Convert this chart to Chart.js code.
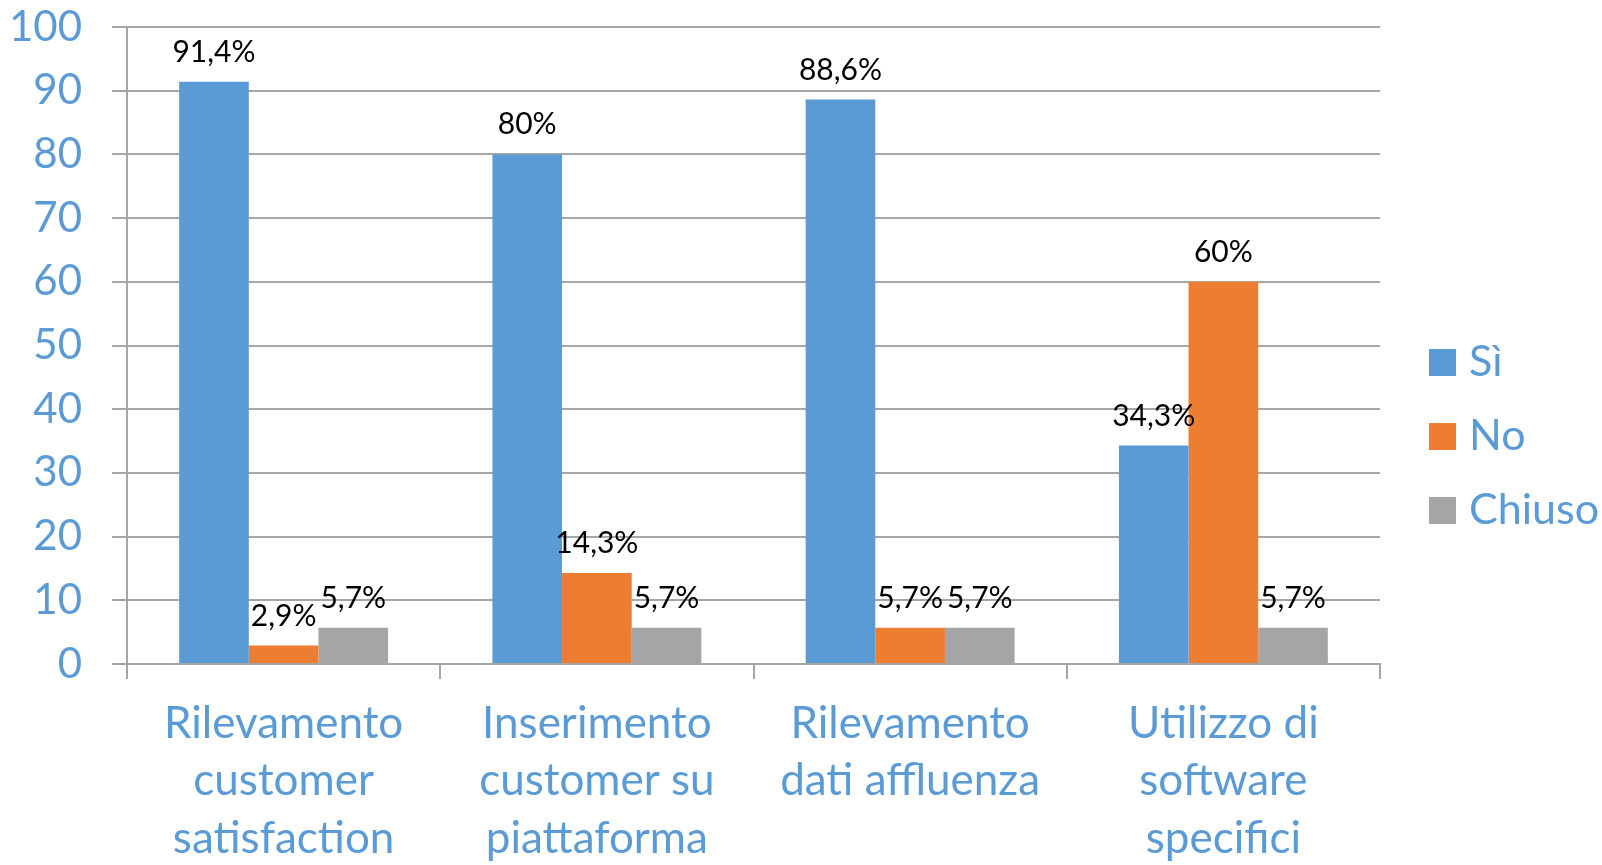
<!DOCTYPE html>
<html lang="it">
<head>
<meta charset="utf-8">
<title>Rilevamenti</title>
<script src="https://cdn.jsdelivr.net/npm/chart.js@4.4.1/dist/chart.umd.min.js"></script>
<style>
    html, body { margin: 0; padding: 0; background: #ffffff; }
    #contenitore { width: 1602px; height: 865px; }
</style>
</head>
<body>
<div id="contenitore"><canvas id="grafico" width="1602" height="865"></canvas></div>
<script>
// 1. DATI DEL GRAFICO
const categorie = [
    ['Rilevamento', 'customer', 'satisfaction'],
    ['Inserimento', 'customer su', 'piattaforma'],
    ['Rilevamento', 'dati affluenza'],
    ['Utilizzo di', 'software', 'specifici']
];
const serieNomi = ['Sì', 'No', 'Chiuso'];
const valoriSi = [91.4, 80, 88.6, 34.3];
const valoriNo = [2.9, 14.3, 5.7, 60];
const valoriChiuso = [5.7, 5.7, 5.7, 5.7];
const tickY = [0, 10, 20, 30, 40, 50, 60, 70, 80, 90, 100];

const BLU = '#5B9BD5';
const GRIGIO_LINEE = '#A6A6A6';

// 2. FORMATO ETICHETTE (virgola decimale)
function formatoPercentuale(v) {
    return String(v).replace('.', ',') + '%';
}

// 3. PLUGIN: valori sopra le barre
const etichetteValori = {
    id: 'etichetteValori',
    afterDatasetsDraw(chart) {
        const ctx = chart.ctx;
        ctx.save();
        ctx.font = '30px Lato';
        ctx.fillStyle = '#000000';
        ctx.textAlign = 'center';
        ctx.textBaseline = 'alphabetic';
        chart.data.datasets.forEach((ds, i) => {
            chart.getDatasetMeta(i).data.forEach((barra, j) => {
                ctx.fillText(formatoPercentuale(ds.data[j]), barra.x, barra.y - 20);
            });
        });
        ctx.restore();
    }
};

// 4. PLUGIN: legenda a destra, centrata sull'altezza totale
const legendaDestra = {
    id: 'legendaDestra',
    afterDraw(chart) {
        const ctx = chart.ctx;
        const lato = 27, passo = 74, x = 1429;
        let y = 349;
        ctx.save();
        ctx.font = '43px Lato';
        ctx.textAlign = 'left';
        ctx.textBaseline = 'alphabetic';
        chart.data.datasets.forEach(ds => {
            ctx.fillStyle = ds.backgroundColor;
            ctx.fillRect(x, y, lato, lato);
            ctx.fillStyle = BLU;
            ctx.fillText(ds.label, x + 40, y + 27);
            y += passo;
        });
        ctx.restore();
    }
};

// 5. CREAZIONE DEL GRAFICO
let grafico;

function disegnaGrafico() {
    const ctx = document.getElementById('grafico').getContext('2d');
    if (grafico) grafico.destroy();

    grafico = new Chart(ctx, {
        type: 'bar',
        data: {
            labels: categorie,
            datasets: [
                { label: serieNomi[0], data: valoriSi, backgroundColor: '#5B9BD5' },
                { label: serieNomi[1], data: valoriNo, backgroundColor: '#ED7D31' },
                { label: serieNomi[2], data: valoriChiuso, backgroundColor: '#A5A5A5' }
            ]
        },
        options: {
            responsive: false,
            animation: false,
            layout: { padding: { top: 27, left: 0, right: 222, bottom: 0 } },
            datasets: { bar: { categoryPercentage: 0.667, barPercentage: 1 } },
            plugins: { legend: { display: false }, tooltip: { enabled: false } },
            scales: {
                x: {
                    afterFit: scala => { scala.height = 201; },
                    grid: { display: true, drawOnChartArea: false, drawTicks: true, tickLength: 15, color: GRIGIO_LINEE, lineWidth: 2 },
                    border: { display: true, color: GRIGIO_LINEE, width: 2 },
                    ticks: { color: BLU, font: { family: 'Lato', size: 44, lineHeight: 1.307 }, padding: 16, maxRotation: 0, autoSkip: false }
                },
                y: {
                    min: 0, max: 100,
                    afterBuildTicks: scala => { scala.ticks = tickY.map(v => ({ value: v })); },
                    afterFit: scala => {
                        scala.width = 127;
                        scala.paddingTop = 0;
                        scala.paddingBottom = 0;
                    },
                    grid: { color: GRIGIO_LINEE, lineWidth: 2, tickLength: 15 },
                    border: { display: true, color: GRIGIO_LINEE, width: 2 },
                    ticks: { color: BLU, font: { family: 'Lato', size: 42 }, padding: 30 }
                }
            }
        },
        plugins: [etichetteValori, legendaDestra]
    });
}

window.onload = () => {
    disegnaGrafico();
};
</script>
</body>
</html>
